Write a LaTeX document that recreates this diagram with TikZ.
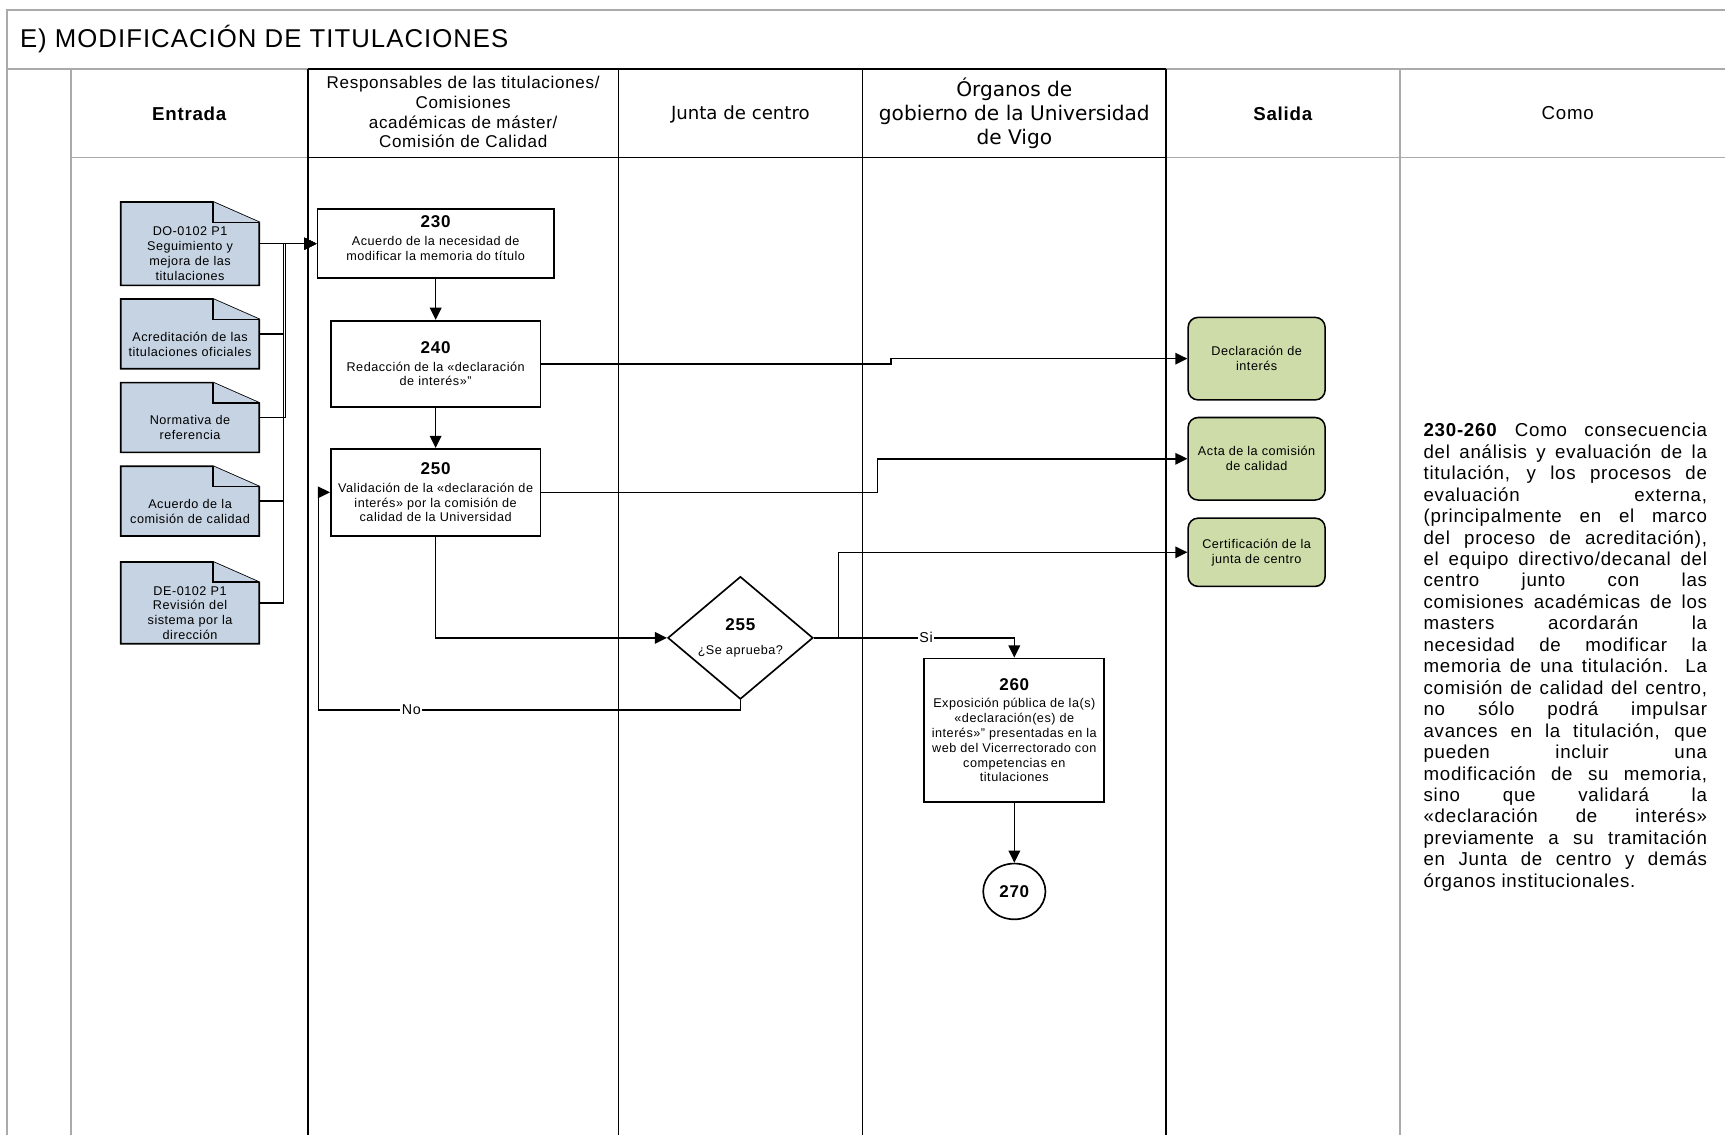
\documentclass[tikz,border=0pt]{standalone}
\usepackage{fontspec}
\setmainfont[LetterSpace=4]{Liberation Sans}
\newfontfamily\juntafont{DejaVu Sans}
\usetikzlibrary{arrows.meta,shapes.geometric,backgrounds}

\definecolor{docblue}{RGB}{198,211,227}
\definecolor{salgreen}{RGB}{205,220,168}
\definecolor{framegray}{RGB}{170,170,170}

\newcommand{\numero}[1]{{\fontsize{15.5}{17}\selectfont\bfseries #1}}
\newcommand{\chica}{\fontsize{11.5}{13.5}\selectfont}

\begin{document}
\begin{tikzpicture}[x=1pt,y=-1pt,
    every node/.style={inner sep=0pt},
    grayline/.style={framegray,line width=1.5pt},
    lane/.style={line width=1.3pt},
    head/.style={align=center,font=\fontsize{17}{20}\selectfont},
    doc/.style={minimum width=125.5pt,text width=122pt,align=center,font=\chica},
    docshape/.style={draw,fill=docblue,line width=1.5pt,line join=miter},
    proc/.style={draw,line width=1.6pt,align=center,font=\chica},
    sal/.style={draw,fill=salgreen,rounded corners=9pt,line width=1.4pt,
        minimum width=124.5pt,minimum height=75pt,align=center,font=\chica},
    flow/.style={line width=1.4pt,-{Triangle[length=11pt,width=10.5pt]}},
    lab/.style={fill=white,inner sep=1.5pt,font=\fontsize{13}{15}\selectfont}]

    \useasboundingbox (0,0) rectangle (1568,1031.8);

    % marco y calles
    \draw[grayline] (6.3,1031.8) -- (6.3,9) -- (1568,9);
    \draw[grayline] (6.3,62.7) -- (280,62.7);
    \draw[grayline] (1060,62.7) -- (1568,62.7);
    \draw[grayline] (64.4,143.3) -- (280,143.3);
    \draw[grayline] (1060,143.3) -- (1568,143.3);
    \draw[grayline] (64.4,62.7) -- (64.4,1031.8);
    \draw[grayline] (1272.7,62.7) -- (1272.7,1031.8);
    \draw[lane] (280,62.7) -- (1060,62.7);
    \draw[lane] (280,143.3) -- (1060,143.3);
    \foreach \x in {280,562,784,1060}
        \draw[lane] (\x,62.7) -- (\x,1031.8);

    \node[anchor=west,font=\fontsize{23.4}{28}\selectfont] (titulo) at (18,35.8) {E) MODIFICACIÓN DE TITULACIONES};

    \node[head,font=\fontsize{17}{20}\selectfont\bfseries] (entrada) at (172,103) {Entrada};
    \node[head,font=\fontsize{15.5}{17.8}\selectfont] (resp) at (421,102) {Responsables de las titulaciones/\\Comisiones\\académicas de máster/\\Comisión de Calidad};
    \node[head,font=\juntafont\fontsize{16.5}{20}\selectfont] (junta) at (673,104) {Junta de centro};
    \node[head,font=\juntafont\fontsize{18.3}{22}\selectfont] (organos) at (922,103) {Órganos de\\gobierno de la Universidad\\de Vigo};
    \node[head,font=\fontsize{17}{20}\selectfont\bfseries] (salida) at (1166,103) {Salida};
    \node[head] (como) at (1425,103) {Como};

    % entradas
    \node[doc,minimum height=56.9pt] (e1) at (172.75,230.75) {DO-0102 P1\\Seguimiento y\\mejora de las\\titulaciones};
    \node[doc,minimum height=44.5pt] (e2) at (172.75,312.75) {Acreditación de las\\titulaciones oficiales};
    \node[doc,minimum height=44.5pt] (e3) at (172.75,388.75) {Normativa de\\referencia};
    \node[doc,minimum height=44.5pt] (e4) at (172.75,464.75) {Acuerdo de la\\comisión de calidad};
    \node[doc,minimum height=55.5pt] (e5) at (172.75,557.25) {DE-0102 P1\\Revisión del\\sistema por la\\dirección};
    \begin{scope}[on background layer]
        \foreach \e in {e1,e2,e3,e4,e5} {
            \draw[docshape] ([yshift=18.5pt]\e.north west) -- ([xshift=-42pt,yshift=18.5pt]\e.north east)
                -- (\e.north east) -- (\e.south east) -- (\e.south west) -- cycle;
            \draw[docshape] ([xshift=-42pt,yshift=18.5pt]\e.north east) -- ([xshift=-42pt]\e.north east) -- (\e.north east);
        }
    \end{scope}

    % actividades
    \node[proc,minimum width=215pt,minimum height=63pt,text depth=10pt] (230) at (396,221.5) {\numero{230}\\[2.5pt]Acuerdo de la necesidad de\\modificar la memoria do título};
    \node[proc,minimum width=190.5pt,minimum height=78.5pt] (240) at (396,330.75) {\numero{240}\\[2.5pt]Redacción de la «declaración\\de interés»"};
    \node[proc,minimum width=190.5pt,minimum height=79pt] (250) at (396,447.5) {\numero{250}\\[2.5pt]Validación de la «declaración de\\interés» por la comisión de\\calidad de la Universidad};
    \node[diamond,draw,line width=1.5pt,minimum width=132pt,minimum height=111.5pt,aspect=1.18,align=center,font=\chica] (255) at (673,579.8) {\numero{255}\\[9pt]¿Se aprueba?};
    \node[proc,minimum width=163.6pt,minimum height=130.3pt] (260) at (922,663.65) {\numero{260}\\[2.5pt]Exposición pública de la(s)\\«declaración(es) de\\interés»" presentadas en la\\web del Vicerrectorado con\\competencias en\\titulaciones};
    \node[ellipse,draw,line width=1.5pt,minimum width=56.6pt,minimum height=50.7pt] (270) at (922,810.3) {\numero{270}};

    % salidas
    \node[sal] (s1) at (1142.25,326) {Declaración de\\interés};
    \node[sal] (s2) at (1142.25,417) {Acta de la comisión\\de calidad};
    \node[sal,minimum height=62pt] (s3) at (1142.25,502) {Certificación de la\\junta de centro};

    \node[anchor=north west,text width=257.7pt,align=justify,font=\fontsize{17}{19.5}\selectfont] (texto) at (1293.8,384.5)
        {\textbf{230-260} Como consecuencia\linebreak
        del análisis y evaluación de la\linebreak
        titulación, y los procesos de\linebreak
        evaluación externa,\linebreak
        (principalmente en el marco\linebreak
        del proceso de acreditación),\linebreak
        el equipo directivo/decanal del\linebreak
        centro junto con las\linebreak
        comisiones académicas de los\linebreak
        masters acordarán la\linebreak
        necesidad de modificar la\linebreak
        memoria de una titulación. La\linebreak
        comisión de calidad del centro,\linebreak
        no sólo podrá impulsar\linebreak
        avances en la titulación, que\linebreak
        pueden incluir una\linebreak
        modificación de su memoria,\linebreak
        sino que validará la\linebreak
        «declaración de interés»\linebreak
        previamente a su tramitación\linebreak
        en Junta de centro y demás\linebreak
        órganos institucionales.};

    % conectores
    \coordinate (busA) at (257.5,221.5);
    \coordinate (busB) at (259.4,221.5);
    \coordinate (k1) at (810,326);
    \coordinate (k2) at (797.6,417);
    \coordinate (cert) at (762,579.8);
    \coordinate (nob) at (289.6,645.5);

    \draw[flow] ([yshift=9.25pt]e1.east) -- (230.west);
    \foreach \e in {e2,e4,e5}
        \draw[flow] ([yshift=9.25pt]\e.east) -| (busA) -- (230.west);
    \draw[flow] ([yshift=9.25pt]e3.east) -| (busB) -- (230.west);

    \draw[flow] (230) -- (240);
    \draw[flow] (240) -- (250);
    \draw[flow] (250.south) |- (255.west);
    \draw[flow] (255.east) -| node[lab,pos=0.28] {Si} (260.north);
    \draw[flow] (cert) |- (s3.west);% certificacion
    \draw[flow] (255.south) |- node[lab,pos=0.89] {No} (nob) |- (250.west);
    \draw[flow] (260) -- (270);
    \draw[flow] (240.east) -| (k1) -- (s1.west);
    \draw[flow] (250.east) -| (k2) -- (s2.west);
\end{tikzpicture}
\end{document}
